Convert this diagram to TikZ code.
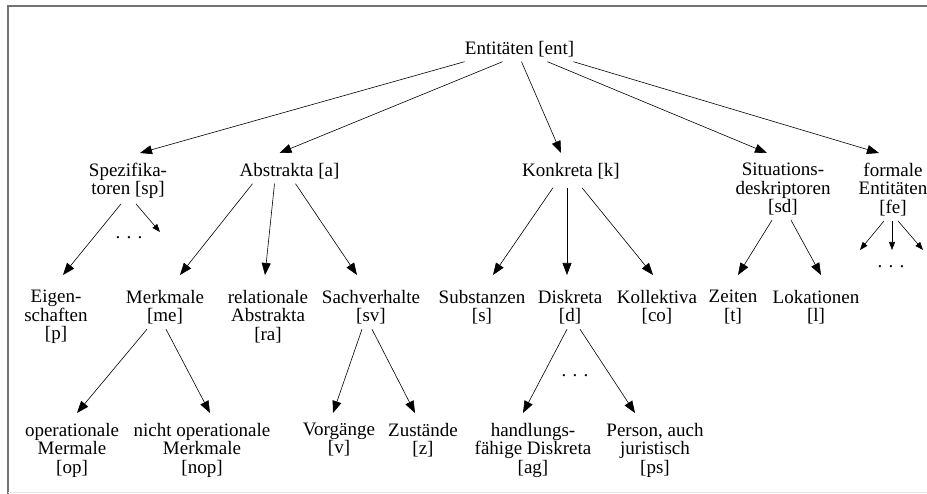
\documentclass[tikz,border=0pt]{standalone}
\usepackage{fontspec}
\setmainfont{Liberation Serif}
\usepackage{tikz}
\usetikzlibrary{arrows.meta}

\begin{document}
\begin{tikzpicture}[x=1pt, y=-1pt,
    lbl/.style={anchor=north, align=center, inner sep=0pt, outer sep=5pt, font=\fontsize{19}{18.5}\selectfont},
    more/.style={anchor=south, inner sep=0pt, font=\fontsize{19}{18.5}\selectfont},
    arr/.style={-{Triangle[length=12pt,width=9pt]}, line width=0.6pt},
    tip/.style={-{Triangle[length=8pt,width=6pt]}, line width=0.6pt}]
    \useasboundingbox (0,0) rectangle (927,494);
    \draw[black!55, line width=1.5pt] (927,6) -- (8,6) -- (8,494);
    \draw[black!10, line width=1pt] (8,492.5) -- (927,492.5);
    \node[lbl] (ent) at (519.5,36) {Entitäten [ent]};
    \node[lbl] (sp) at (128,158) {Spezifika-\\toren [sp]};
    \node[lbl] (a) at (289.5,158) {Abstrakta [a]};
    \node[lbl] (k) at (571,158) {Konkreta [k]};
    \node[lbl] (sd) at (783,158) {Situations-\\deskriptoren\\{[sd]}};
    \node[lbl] (fe) at (893,158) {formale\\Entitäten\\{[fe]}};
    \node[lbl] (p) at (56,285) {Eigen-\\schaften\\{[p]}};
    \node[lbl] (me) at (165,285) {Merkmale\\{[me]}};
    \node[lbl] (ra) at (268,285) {relationale\\Abstrakta\\{[ra]}};
    \node[lbl] (sv) at (371,285) {Sachverhalte\\{[sv]}};
    \node[lbl] (s) at (482,285) {Substanzen\\{[s]}};
    \node[lbl] (d) at (570,285) {Diskreta\\{[d]}};
    \node[lbl] (co) at (657,285) {Kollektiva\\{[co]}};
    \node[lbl] (t) at (733,285) {Zeiten\\{[t]}};
    \node[lbl] (l) at (816,285) {Lokationen\\{[l]}};
    \node[lbl] (op) at (72,418) {operationale\\Mermale\\{[op]}};
    \node[lbl] (nop) at (202,418) {nicht operationale\\Merkmale\\{[nop]}};
    \node[lbl] (v) at (339,418) {Vorgänge\\{[v]}};
    \node[lbl] (z) at (423,418) {Zustände\\{[z]}};
    \node[lbl] (ag) at (533,418) {handlungs-\\fähige Diskreta\\{[ag]}};
    \node[lbl] (ps) at (655,418) {Person, auch\\juristisch\\{[ps]}};
    \node[more] (spdots) at (129,239) {. . .};
    \node[more] (ddots) at (575,377) {. . .};
    \node[more] (fedots) at (891,268) {. . .};
    \coordinate (spend) at (160,232);
    \coordinate (fe1) at (860,250);
    \coordinate (fe2) at (892,250);
    \coordinate (fe3) at (923,250);
    \draw[arr] ([xshift=-55pt]ent.south) -- ([xshift=12pt,yshift=5pt]sp.north);
    \draw[arr] ([xshift=-17pt]ent.south) -- ([xshift=-10pt,yshift=5pt]a.north);
    \draw[arr] ([xshift=2pt]ent.south) -- ([xshift=-10pt,yshift=5pt]k.north);
    \draw[arr] ([xshift=28pt]ent.south) -- ([xshift=-16pt,yshift=5pt]sd.north);
    \draw[arr] ([xshift=54pt]ent.south) -- ([xshift=-14pt,yshift=5pt]fe.north);
    \draw[arr] ([xshift=-7pt]sp.south) -- ([xshift=7pt,yshift=10pt]p.north);
    \draw[tip] ([xshift=8pt]sp.south) -- (spend);
    \draw[arr] ([xshift=-37pt]a.south) -- ([xshift=15pt,yshift=10pt]me.north);
    \draw[arr] ([xshift=-15pt]a.south) -- ([xshift=-3pt,yshift=10pt]ra.north);
    \draw[arr] ([xshift=6pt]a.south) -- ([xshift=-14pt,yshift=10pt]sv.north);
    \draw[arr] ([xshift=-18pt,yshift=-4pt]k.south) -- ([xshift=11pt,yshift=10pt]s.north);
    \draw[arr] ([xshift=-4pt,yshift=-4pt]k.south) -- ([xshift=-3pt,yshift=10pt]d.north);
    \draw[arr] ([xshift=11pt,yshift=-4pt]k.south) -- ([xshift=-4pt,yshift=10pt]co.north);
    \draw[arr] ([xshift=-11pt]sd.south) -- ([xshift=5pt,yshift=10pt]t.north);
    \draw[arr] ([xshift=8pt]sd.south) -- ([xshift=5pt,yshift=10pt]l.north);
    \draw[tip] ([xshift=-9pt]fe.south) -- (fe1);
    \draw[tip] ([xshift=-1pt]fe.south) -- (fe2);
    \draw[tip] ([xshift=5pt]fe.south) -- (fe3);
    \draw[arr] ([xshift=-18pt]me.south) -- ([xshift=5pt,yshift=5pt]op.north);
    \draw[arr] ([xshift=1pt]me.south) -- ([xshift=8pt,yshift=5pt]nop.north);
    \draw[arr] ([xshift=-9pt]sv.south) -- ([xshift=-6pt,yshift=5pt]v.north);
    \draw[arr] ([xshift=1pt]sv.south) -- ([xshift=-8pt,yshift=5pt]z.north);
    \draw[arr] ([xshift=-3pt]d.south) -- ([xshift=-10pt,yshift=5pt]ag.north);
    \draw[arr] ([xshift=10pt]d.south) -- ([xshift=-20pt,yshift=5pt]ps.north);
\end{tikzpicture}
\end{document}
